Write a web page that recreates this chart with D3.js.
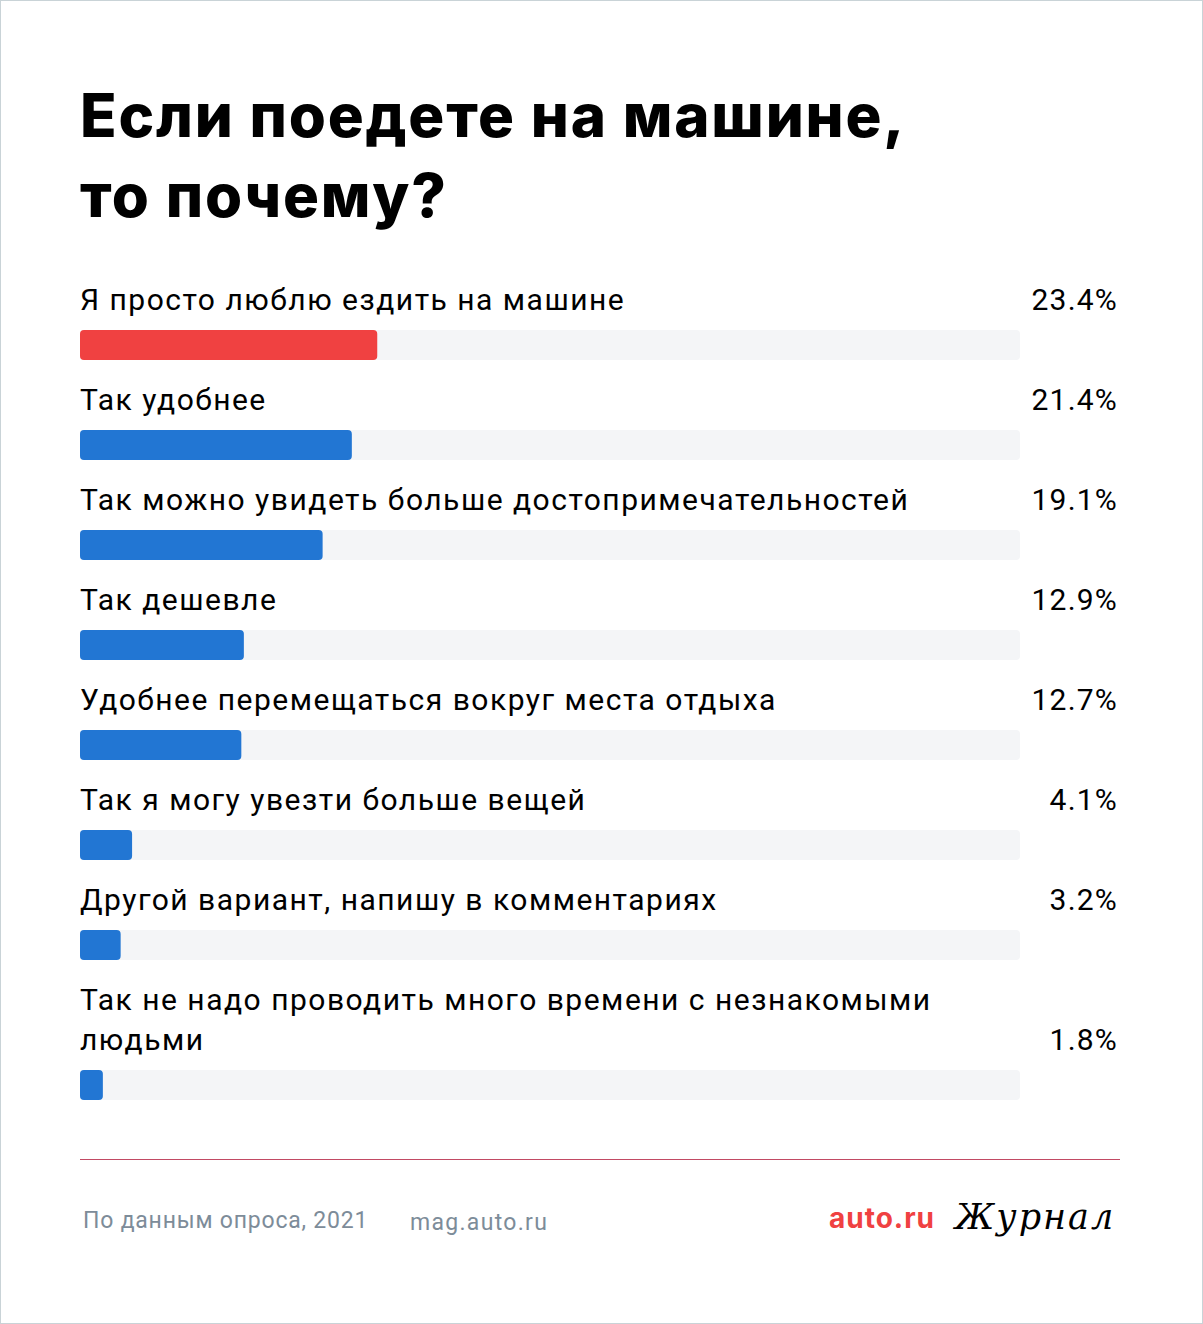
<!DOCTYPE html>
<html>
<head>
<meta charset="utf-8">
<script src="https://cdn.jsdelivr.net/npm/d3@7"></script>
<style>
  body { margin: 0; background: #fff; }
  svg { display: block; }
</style>
</head>
<body>
<div id="chart"></div>
<script>
// survey answers, top to bottom
var answers = [
    ["Я просто люблю ездить на машине"],
    ["Так удобнее"],
    ["Так можно увидеть больше достопримечательностей"],
    ["Так дешевле"],
    ["Удобнее перемещаться вокруг места отдыха"],
    ["Так я могу увезти больше вещей"],
    ["Другой вариант, напишу в комментариях"],
    ["Так не надо проводить много времени с незнакомыми", "людьми"]
];
var shares = [23.4, 21.4, 19.1, 12.9, 12.7, 4.1, 3.2, 1.8];
var shareLabels = ["23.4%", "21.4%", "19.1%", "12.9%", "12.7%", "4.1%", "3.2%", "1.8%"];

var titleLines = ["Если поедете на машине,", "то почему?"];
var footerSource = "По данным опроса, 2021";
var footerSite = "mag.auto.ru";

var W = 1203, H = 1324;
var margins = { left: 80, right: 183 };
var labelFont = "Roboto, 'Noto Sans', sans-serif";

var svg = d3.select("#chart")
    .append("svg")
    .attr("width", W)
    .attr("height", H);

// thin frame round the card
svg.append("rect")
    .attr("x", 0.5).attr("y", 0.5)
    .attr("width", W - 1).attr("height", H - 1)
    .attr("fill", "#fff")
    .attr("stroke", "#c9d3d7");

// title
svg.append("g")
    .selectAll("text")
    .data(titleLines)
    .enter()
    .append("text")
    .attr("x", 80)
    .attr("y", (d, i) => 137 + i * 80)
    .style("font-family", "Inter, sans-serif")
    .style("font-weight", 800)
    .style("font-size", "60px")
    .style("letter-spacing", "1.8px")
    .attr("fill", "#000")
    .text(d => d);

// each row: label lines, then bar 20px below the last line
var rowTop = [];
var y = 310;
answers.forEach(function(a) {
    rowTop.push(y);
    y += (a.length - 1) * 40 + 100;
});

var x = d3.scaleLinear()
    .domain([0, 74])
    .range([margins.left, W - margins.right]);

var rows = svg.selectAll(".row")
    .data(answers)
    .enter()
    .append("g")
    .attr("class", "row")
    .attr("transform", (d, i) => `translate(0,${rowTop[i]})`);

rows.each(function(lines, i) {
    var g = d3.select(this);
    var barY = (lines.length - 1) * 40 + 20;

    g.selectAll("text.lbl")
        .data(lines)
        .enter()
        .append("text")
        .attr("class", "lbl")
        .attr("x", 80)
        .attr("y", (d, j) => j * 40)
        .style("font-family", labelFont)
        .style("font-size", "30px")
        .style("letter-spacing", "1.5px")
        .attr("fill", "#000")
        .text(d => d);

    g.append("text")
        .attr("x", 1118)
        .attr("y", (lines.length - 1) * 40)
        .attr("text-anchor", "end")
        .style("font-family", labelFont)
        .style("font-size", "30px")
        .style("letter-spacing", "1.2px")
        .attr("fill", "#000")
        .text(shareLabels[i]);

    // grey track
    g.append("rect")
        .attr("x", x(0))
        .attr("y", barY)
        .attr("width", x.range()[1] - x(0))
        .attr("height", 30)
        .attr("rx", 4)
        .attr("fill", "#f4f5f7");

    g.append("rect")
        .attr("x", x(0))
        .attr("y", barY)
        .attr("width", x(shares[i]) - x(0))
        .attr("height", 30)
        .attr("rx", 4)
        .attr("fill", i === 0 ? "#f04141" : "#2276d3");
});

// footer
svg.append("line")
    .attr("x1", 80).attr("x2", 1120)
    .attr("y1", 1159.5).attr("y2", 1159.5)
    .attr("stroke", "#c24a64")
    .attr("stroke-width", 1.2);

svg.append("text")
    .attr("x", 83).attr("y", 1228)
    .style("font-family", labelFont)
    .style("font-size", "23px")
    .style("letter-spacing", "0.8px")
    .attr("fill", "#7d8c99")
    .text(footerSource);

svg.append("text")
    .attr("x", 410).attr("y", 1230)
    .style("font-family", labelFont)
    .style("font-size", "23px")
    .style("letter-spacing", "1.3px")
    .attr("fill", "#7d8c99")
    .text(footerSite);

svg.append("text")
    .attr("x", 829).attr("y", 1228)
    .style("font-family", "Inter, sans-serif")
    .style("font-weight", 700)
    .style("font-size", "28px")
    .style("letter-spacing", "1px")
    .attr("fill", "#f04141")
    .text("auto.ru");

svg.append("text")
    .attr("x", 955).attr("y", 1229)
    .style("font-family", "'DejaVu Serif', serif")
    .style("font-style", "italic")
    .style("font-size", "35px")
    .style("letter-spacing", "2px")
    .attr("fill", "#000")
    .text("Журнал");
</script>
</body>
</html>
